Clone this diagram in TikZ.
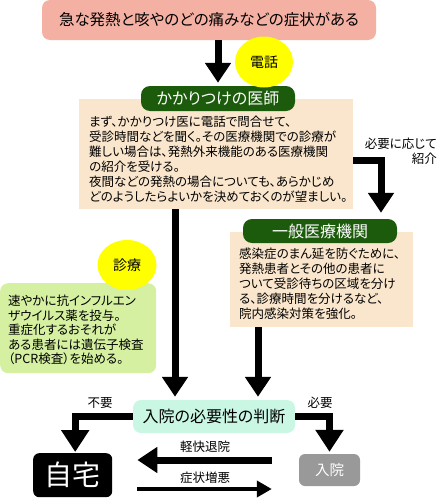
\documentclass[tikz,border=0pt]{standalone}
\usepackage{fontspec}
\setmainfont{Noto Sans CJK JP}[RawFeature={+palt}]
\usetikzlibrary{arrows.meta, shapes.geometric, calc}

\definecolor{symptompink}{HTML}{F3B0A3}
\definecolor{calloutyellow}{HTML}{FFFF00}
\definecolor{headgreen}{HTML}{1D5B0C}
\definecolor{notebeige}{HTML}{FAE6CC}
\definecolor{carelime}{HTML}{D5F0A1}
\definecolor{judgemint}{HTML}{C9F7E4}
\definecolor{hospgray}{HTML}{999999}

\begin{document}
\begin{tikzpicture}[x=1pt, y=-1pt,
        roundbox/.style={inner sep=0, rounded corners=8pt},
        plainbox/.style={inner sep=0, anchor=north west},
        headbox/.style={inner sep=0, fill=headgreen, text=white, rounded corners=9pt,
            minimum width=154pt, font=\fontsize{16}{18}\selectfont},
        callout/.style={ellipse, inner sep=0, fill=calloutyellow, font=\fontsize{14}{16}\selectfont},
        bodytext/.style={inner sep=0, anchor=north west, align=left, font=\fontsize{12.5}{15}\selectfont},
        note/.style={inner sep=0, font=\fontsize{12.5}{15}\selectfont},
        fatarrow/.style={line width=7pt, -{Triangle[width=25pt, length=20pt]}},
        slimarrow/.style={line width=4.5pt, -{Triangle[width=16pt, length=15pt]}}]
        \useasboundingbox (0,0) rectangle (437,498);

        % boxes
        \node[roundbox, fill=symptompink, minimum width=334pt, minimum height=40pt,
            font=\fontsize{15.5}{18}\selectfont] (symptom) at (209,20) {急な発熱と咳やのどの痛みなどの症状がある};
        \node[plainbox, fill=notebeige, minimum width=274pt, minimum height=110pt] (doctorbox) at (79,99) {};
        \node[headbox, minimum height=25pt] (doctorhead) at (218,98.5) {かかりつけの医師};
        \node[callout, minimum width=58pt, minimum height=51pt] (phone) at (264,62) {電話};
        \node[bodytext] (doctortext) at (89,116) {まず、かかりつけ医に電話で問合せて、\\受診時間などを聞く。その医療機関での診療が\\難しい場合は、発熱外来機能のある医療機関\\の紹介を受ける。\\夜間などの発熱の場合についても、あらかじめ\\どのようしたらよいかを決めておくのが望ましい。};

        \node[plainbox, fill=notebeige, minimum width=183pt, minimum height=95pt] (generalbox) at (230,232) {};
        \node[headbox, minimum height=24pt] (generalhead) at (320,231) {一般医療機関};
        \node[bodytext] (generaltext) at (239,248) {感染症のまん延を防ぐために、\\発熱患者とその他の患者に\\ついて受診待ちの区域を分け\\る、診療時間を分けるなど、\\院内感染対策を強化。};

        \node[roundbox, anchor=north west, fill=carelime, minimum width=156pt, minimum height=90pt] (carebox) at (0,283) {};
        \node[bodytext, font=\fontsize{12.5}{14.5}\selectfont] (caretext) at (8,295) {速やかに抗インフルエン\\ザウイルス薬を投与。\\重症化するおそれが\\ある患者には遺伝子検査\\（PCR検査）を始める。};
        \node[callout, minimum width=59pt, minimum height=50pt] (care) at (127,265) {診療};

        \node[roundbox, fill=judgemint, minimum width=162pt, minimum height=33pt,
            font=\fontsize{16}{18}\selectfont] (judge) at (214,416.5) {入院の必要性の判断};
        \node[roundbox, rounded corners=6pt, anchor=north west, fill=black, text=white, minimum width=79pt,
            minimum height=44pt, font=\fontsize{28}{30}\selectfont] (home) at (33,453) {自宅};
        \node[roundbox, rounded corners=6pt, fill=hospgray, text=white, minimum width=61pt,
            minimum height=32pt, font=\fontsize{14.5}{16}\selectfont] (hosp) at (329.5,470) {入院};

        % labels
        \node[note, anchor=north east, align=right] (refer) at (437,138) {必要に応じて\\紹介};
        \node[note] (noneed) at (100,403) {不要};
        \node[note] (need) at (320,403) {必要};
        \node[note] (better) at (205,447) {軽快退院};
        \node[note] (worse) at (205,478) {症状増悪};

        % arrows
        \draw[fatarrow, shorten >=3pt] (symptom.south -| doctorhead.north) -- (doctorhead.north);
        \draw[fatarrow, shorten >=6pt] ([yshift=-6pt]doctorbox.east) -| ([xshift=61pt]generalhead.north);

        \coordinate (dropa) at ([xshift=96pt]doctorbox.south west);
        \coordinate (dropb) at ([xshift=28pt]generalbox.south west);
        \draw[fatarrow, shorten >=3pt] (dropa) -- (dropa |- judge.north);
        \draw[fatarrow, shorten >=3pt] (dropb) -- (dropb |- judge.north);

        \draw[fatarrow, -{Triangle[width=27pt, length=22pt]}, shorten >=1pt] (judge.west) -| ([xshift=2.5pt]home.north);
        \draw[fatarrow, -{Triangle[width=27pt, length=22pt]}, shorten >=2pt] (judge.east) -| (hosp.north);

        \coordinate (backline) at ([yshift=10pt]hosp.west);
        \coordinate (worseline) at ([yshift=-19pt]hosp.west);
        \draw[fatarrow, shorten <=27pt, shorten >=25pt] (backline) -- (backline -| home.east);
        \draw[slimarrow, shorten <=25pt, shorten >=27pt] (worseline -| home.east) -- (worseline);
    \end{tikzpicture}
\end{document}
